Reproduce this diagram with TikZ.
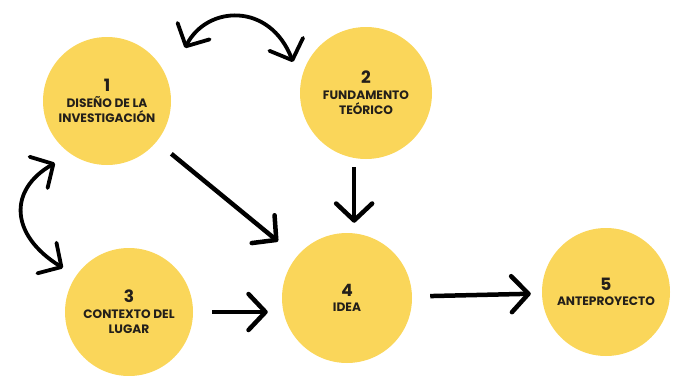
\documentclass[tikz,border=0pt]{standalone}
\usepackage{fontspec}
\setmainfont{Poppins}
\usepackage{tikz}
\usetikzlibrary{arrows.meta}

\definecolor{circ}{HTML}{FAD65A}
\definecolor{ink}{HTML}{231F1A}
\newcommand{\stepnum}[1]{{\fontsize{17}{17}\selectfont #1}}

\begin{document}
\begin{tikzpicture}[x=1pt,y=-1pt,->,>={Straight Barb[length=17pt,width=36pt,round]},
                    line width=4.5pt,
                    main node/.style={circle,fill=circ,minimum size=128pt,inner sep=0pt,
                      align=center,text=ink,font=\bfseries\fontsize{12.2}{15.5}\selectfont}]
  \useasboundingbox (0,0) rectangle (677,375);

  \node[main node] (1) at (107,101) {\stepnum{1}\\DISEÑO DE LA\\INVESTIGACIÓN};
  \node[main node,minimum size=132pt] (2) at (366,93) {\stepnum{2}\\FUNDAMENTO\\TEÓRICO};
  \node[main node] (3) at (129,312) {\stepnum{3}\\CONTEXTO DEL\\LUGAR};
  \node[main node,minimum size=130pt] (4) at (347,298) {\stepnum{4}\\IDEA};
  \node[main node] (5) at (606,292) {\stepnum{5}\\ANTEPROYECTO};

  % loose ends of the curved arrows
  \coordinate (a1) at (185,48);
  \coordinate (a2) at (293,62);
  \coordinate (b1) at (55,163);
  \coordinate (b3) at (63,268);

  \draw[<->,line width=3.8pt] (a1) .. controls (207,5) and (270,2) .. (a2);
  \draw[<->,line width=3.8pt] (b1) .. controls (8,190) and (10,235) .. (b3);

  \path
    (1) edge [shorten <=17pt,shorten >=22pt] (4)
    (2.260) edge [shorten <=7pt,shorten >=8pt] (2.260 |- 4.north)
    (3.east) edge [shorten <=17pt,shorten >=12pt] (3.east -| 4.west)
    (4) edge [shorten <=16pt,shorten >=9pt] (5);
\end{tikzpicture}
\end{document}
